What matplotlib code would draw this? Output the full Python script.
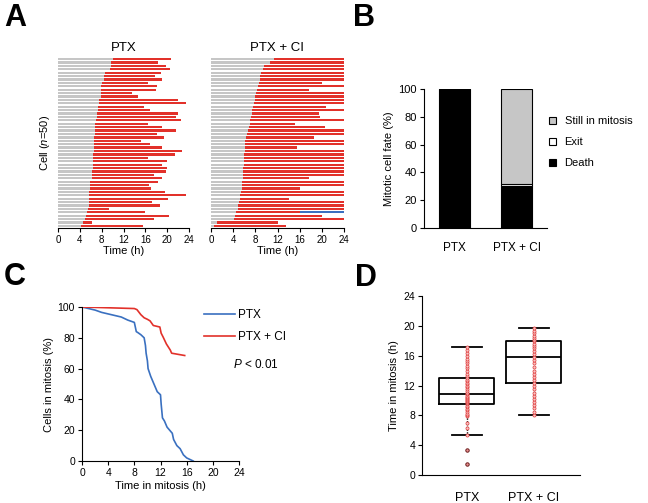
import numpy as np
import matplotlib
matplotlib.use("Agg")
import matplotlib.pyplot as plt
from matplotlib.patches import Patch

plt.rcParams['font.family'] = ['Liberation Sans', 'DejaVu Sans']
plt.rcParams['mathtext.fontset'] = 'custom'
plt.rcParams['mathtext.rm'] = 'Liberation Sans'
plt.rcParams['mathtext.it'] = 'Liberation Sans:italic'
plt.rcParams['axes.linewidth'] = 0.8
plt.rcParams['xtick.major.width'] = 0.8
plt.rcParams['ytick.major.width'] = 0.8
plt.rcParams['xtick.major.size'] = 3
plt.rcParams['ytick.major.size'] = 3

# --- data ---
# A: per-cell mitotic entry (end of grey) and fate time (end of red), top row first
ptx_start = [10.1, 9.8, 9.7, 9.5, 8.6, 8.5, 8.4, 8.1, 7.8, 7.8, 7.8, 7.8, 7.5, 7.5, 7.4,
             7.3, 7.2, 7.2, 7.0, 6.7, 6.7, 6.7, 6.7, 6.6, 6.6, 6.6, 6.6, 6.6, 6.5, 6.5,
             6.4, 6.4, 6.4, 6.3, 6.3, 6.2, 5.9, 5.8, 5.8, 5.7, 5.7, 5.7, 5.6, 5.6, 5.5,
             5.3, 5.1, 4.9, 4.5, 4.2]
ptx_end = [20.7, 18.4, 19.7, 20.5, 18.9, 17.8, 19.0, 16.4, 18.1, 17.9, 13.5, 14.6, 21.9, 23.4, 15.7,
           16.8, 22.0, 21.6, 22.5, 16.4, 19.1, 21.6, 18.2, 19.4, 15.2, 16.8, 19.1, 22.8, 21.4, 16.4,
           20.0, 19.1, 20.0, 19.7, 17.6, 19.0, 18.4, 16.7, 17.1, 19.6, 23.5, 20.1, 17.3, 18.7, 9.3,
           15.9, 20.4, 17.5, 6.3, 15.5]
ci_start = [11.3, 10.7, 9.6, 9.3, 9.0, 8.9, 8.8, 8.6, 8.5, 8.3, 8.2, 8.0, 7.9, 7.7, 7.6,
            7.4, 7.4, 7.3, 7.1, 7.0, 6.8, 6.7, 6.5, 6.4, 6.2, 6.2, 6.2, 6.1, 6.0, 5.9,
            5.9, 5.9, 5.8, 5.8, 5.7, 5.7, 5.6, 5.6, 5.6, 5.4, 5.3, 5.2, 5.0, 4.9, 4.8,
            4.6, 4.3, 4.1, 1.1, 0.5]
ci_end = [24, 24, 24, 24, 24, 24, 24, 20.0, 24, 17.7, 24, 24, 24, 24, 20.7,
          24, 19.4, 19.7, 24, 15.2, 20.5, 24, 24, 18.6, 24, 24, 15.6, 24, 24, 24,
          24, 24, 24, 24, 24, 17.7, 24, 24, 16.1, 24, 24, 14.0, 24, 24, 24,
          24, 20.0, 24, 12.1, 13.6]
ci_exit_row = 45
ci_exit_time = 16.1

# B: mitotic cell fate (%)
fate_groups = ['PTX', 'PTX + CI']
fate_death = [100, 30]
fate_exit = [0, 1.5]
fate_still = [0, 68.5]

# C: cells remaining in mitosis (%)
c_ptx_t = [0, 1, 2, 3, 4, 5, 6, 7, 8, 8.3, 8.5, 9, 9.5, 9.7, 9.8, 10, 10.1, 10.5, 11, 11.5,
           12, 12.1, 12.3, 12.6, 13, 13.4, 13.8, 14, 14.5, 15, 15.5, 16, 16.5, 17]
c_ptx_y = [100, 99, 98, 96.5, 95.5, 94.5, 93.5, 91.5, 90, 84, 83.5, 82, 80, 75, 70, 65, 60, 55,
           50, 45, 43, 37, 28, 26, 22, 20, 18, 14, 10, 8, 4, 2, 1, 0]
c_ci_t = [0, 8, 8.4, 9, 9.5, 10, 10.4, 10.9, 11.9, 12.1, 12.4, 12.9, 13.5, 13.7, 15.7]
c_ci_y = [100, 99, 98.3, 95, 93, 92, 91, 88, 87, 83, 80.5, 76, 72, 70, 68.5]

# D: time in mitosis (h)
d_groups = ['PTX', 'PTX + CI']
d_q1 = [9.5, 12.3]
d_med = [10.8, 15.8]
d_q3 = [13.0, 17.9]
d_lo = [5.4, 8.1]
d_hi = [17.2, 19.7]
d_fliers = [[1.5, 3.4], []]
d_ptx_pts = [5.4, 6.3, 7.0, 7.9, 8.0, 8.2, 8.5, 8.7, 8.9, 9.1, 9.3, 9.5,
             9.6, 9.8, 9.9, 10.0, 10.2, 10.3, 10.5, 10.6, 10.8, 10.9, 11.0, 11.2, 11.5, 11.8,
             12.0, 12.2, 12.4, 12.6, 12.8, 13.0, 13.3, 13.6, 14.0, 14.3, 14.6, 15.0, 15.3,
             15.6, 16.0, 16.4, 16.8, 17.2]
d_ci_pts = [8.1, 8.5, 9.0, 9.4, 9.8, 10.2, 10.6, 11.0, 11.5, 11.9, 12.3, 12.7, 13.1, 13.5,
            14.0, 14.5, 15.0, 15.4, 15.8, 16.2, 16.6, 17.0, 17.3, 17.6, 17.9, 18.1, 18.4,
            18.7, 19.0, 19.3, 19.7]

GREY = '#c6c6c6'
RED = '#e2312a'
BLUE = '#3a70c0'

fig = plt.figure(figsize=(6.48, 5.03), dpi=100)


def px(l, t, r, b):
    # pixel box -> figure axes rect
    return [l / 648, 1 - b / 503, (r - l) / 648, (b - t) / 503]


# --- A ---
def cell_panel(ax, start, end, title, exit_row=None, exit_time=None):
    rows = np.arange(len(start))
    start = np.array(start)
    end = np.array(end)
    ax.barh(rows, start, height=0.66, color=GREY, lw=0)
    red_end = end.copy()
    if exit_row is not None:
        red_end[exit_row] = exit_time
        ax.barh(exit_row, end[exit_row] - exit_time, left=exit_time, height=0.66, color=BLUE, lw=0)
    ax.barh(rows, red_end - start, left=start, height=0.66, color=RED, lw=0)
    ax.set_xlim(0, 24)
    ax.set_ylim(49.6, -0.6)
    ax.set_xticks(range(0, 25, 4))
    ax.set_yticks([])
    for s in ['left', 'right', 'top']:
        ax.spines[s].set_visible(False)
    ax.tick_params(axis='x', labelsize=7, pad=2)
    ax.set_xlabel('Time (h)', fontsize=8, labelpad=1)
    ax.set_title(title, fontsize=9.5, pad=4)


axA1 = fig.add_axes(px(58, 57, 189, 228))
cell_panel(axA1, ptx_start, ptx_end, 'PTX')
axA1.set_ylabel('Cell ($n$=50)', fontsize=8, labelpad=4)
axA2 = fig.add_axes(px(211, 57, 344, 228))
cell_panel(axA2, ci_start, ci_end, 'PTX + CI', ci_exit_row, ci_exit_time)

# --- B ---
axB = fig.add_axes(px(424, 89, 547, 228))
xb = np.arange(len(fate_groups))
death = np.array(fate_death)
ext = np.array(fate_exit)
still = np.array(fate_still)
axB.bar(xb, death, 0.5, color='black', edgecolor='black', lw=0.8)
axB.bar(xb, ext, 0.5, bottom=death, color='white', edgecolor='black', lw=0.8)
axB.bar(xb, still, 0.5, bottom=death + ext, color=GREY, edgecolor='black', lw=0.8)
axB.set_xlim(-0.49, 1.49)
axB.set_ylim(0, 100)
axB.set_yticks(range(0, 101, 20))
axB.set_xticks(xb)
axB.set_xticklabels(fate_groups, fontsize=8.5)
axB.tick_params(axis='x', length=0, pad=10)
axB.tick_params(axis='y', labelsize=8, pad=2)
axB.spines['right'].set_visible(False)
axB.spines['top'].set_visible(False)
axB.set_ylabel('Mitotic cell fate (%)', fontsize=8, labelpad=3)
handles = [Patch(facecolor=GREY, edgecolor='black', lw=0.8),
           Patch(facecolor='white', edgecolor='black', lw=0.8),
           Patch(facecolor='black', edgecolor='black', lw=0.8)]
axB.legend(handles, ['Still in mitosis', 'Exit', 'Death'], loc='upper left',
           bbox_to_anchor=(549 / 648, 1 - 116 / 503), bbox_transform=fig.transFigure,
           frameon=False, fontsize=8, handlelength=0.6, handleheight=0.6,
           handletextpad=0.8, labelspacing=1.0, borderpad=0, borderaxespad=0)

# --- C ---
axC = fig.add_axes(px(82, 307, 239, 461))
axC.plot(c_ptx_t, c_ptx_y, color=BLUE, lw=1.2, label='PTX')
axC.plot(c_ci_t, c_ci_y, color=RED, lw=1.2, label='PTX + CI')
axC.set_xlim(0, 24)
axC.set_ylim(0, 100)
axC.set_xticks(range(0, 25, 4))
axC.set_yticks(range(0, 101, 20))
axC.tick_params(labelsize=7.5, pad=2)
axC.spines['right'].set_visible(False)
axC.spines['top'].set_visible(False)
axC.set_xlabel('Time in mitosis (h)', fontsize=8, labelpad=2)
axC.set_ylabel('Cells in mitosis (%)', fontsize=8, labelpad=3)
axC.legend(loc='upper left', bbox_to_anchor=(204 / 648, 1 - 309 / 503),
           bbox_transform=fig.transFigure, frameon=False, fontsize=8.5,
           handlelength=2.6, handletextpad=0.3, labelspacing=0.85,
           borderpad=0, borderaxespad=0)
fig.text(233 / 648, 1 - 364 / 503, '$P$ < 0.01', fontsize=8.5, va='center', ha='left')

# --- D ---
axD = fig.add_axes(px(422, 296, 580, 475))
stats = []
for i in range(len(d_groups)):
    stats.append(dict(q1=d_q1[i], med=d_med[i], q3=d_q3[i], whislo=d_lo[i],
                      whishi=d_hi[i], fliers=[]))
axD.bxp(stats, positions=[0, 1], widths=0.82, showfliers=False,
        boxprops=dict(color='black', lw=1.3),
        medianprops=dict(color='black', lw=1.3),
        whiskerprops=dict(color='black', lw=1.0, ls=(0, (1, 1))),
        capprops=dict(color='black', lw=1.3), capwidths=0.44)
for i, pts in enumerate([d_ptx_pts, d_ci_pts]):
    axD.scatter(np.full(len(pts), i), pts, s=5, facecolor='#f9c4c4',
                edgecolor='#e03a3a', lw=0.5, zorder=3)
for i, fl in enumerate(d_fliers):
    if fl:
        axD.scatter(np.full(len(fl), i), fl, s=6, facecolor='#e89090',
                    edgecolor='#6a1a1a', lw=0.7, zorder=4)
axD.set_xlim(-0.67, 1.69)
axD.set_ylim(0, 24)
axD.set_yticks(range(0, 25, 4))
axD.set_xticks([0, 1])
axD.set_xticklabels(d_groups, fontsize=9)
axD.tick_params(axis='x', length=0, pad=12)
axD.tick_params(axis='y', labelsize=7.5, pad=2)
axD.spines['right'].set_visible(False)
axD.spines['top'].set_visible(False)
axD.set_ylabel('Time in mitosis (h)', fontsize=8, labelpad=3)

# panel letters
for letter, x, y in [('A', 4, 18), ('B', 353, 18), ('C', 4, 277), ('D', 355, 278)]:
    fig.text(x / 648, 1 - y / 503, letter, fontsize=22, fontweight='bold',
             va='center', ha='left')

fig.savefig('out.png', dpi=100)
